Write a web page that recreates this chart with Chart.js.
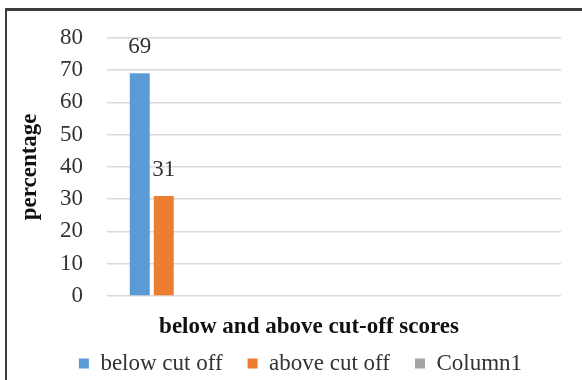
<!DOCTYPE html>
<html><head><meta charset="utf-8">
<script src="https://cdn.jsdelivr.net/npm/chart.js@4.4.1/dist/chart.umd.min.js"></script>
<style>
html,body{margin:0;padding:0;background:#fff;}
#wrap{position:relative;width:582px;height:380px;overflow:hidden;background:#fff;}
#frame{position:absolute;left:5px;top:8px;width:700px;height:500px;border-left:2px solid #3c3c3c;border-top:3px solid #3c3c3c;}
canvas{position:absolute;left:0;top:0;}
</style></head><body>
<div id="wrap"><div id="frame"></div><canvas id="c" width="582" height="380"></canvas></div>
<script>
// ---- data ----
const categories = ['', '', '', ''];
const seriesNames = ['below cut off', 'above cut off', 'Column1'];
const belowCutOff = [69, null, null, null];
const aboveCutOff = [31, null, null, null];
const column1 = [null, null, null, null];
const yTicks = [0, 10, 20, 30, 40, 50, 60, 70, 80];
const xTitle = 'below and above cut-off scores';
const yTitle = 'percentage';

const FONT = '"Liberation Serif", "Times New Roman", serif';

const barLabels = {
  id: 'barLabels',
  afterDatasetsDraw(chart) {
    const ctx = chart.ctx;
    ctx.save();
    ctx.font = '23px ' + FONT;
    ctx.fillStyle = '#333';
    ctx.textAlign = 'center';
    ctx.textBaseline = 'alphabetic';
    chart.data.datasets.forEach((ds, i) => {
      const meta = chart.getDatasetMeta(i);
      meta.data.forEach((el, j) => {
        const v = ds.data[j];
        if (v == null) return;
        ctx.fillText(String(v), el.x, el.y - 20);
      });
    });
    ctx.restore();
  }
};

const axisTitles = {
  id: 'axisTitles',
  afterDraw(chart) {
    const ctx = chart.ctx;
    const a = chart.chartArea;
    ctx.save();
    ctx.font = 'bold 23px ' + FONT;
    ctx.fillStyle = '#111';
    ctx.textAlign = 'center';
    ctx.textBaseline = 'middle';
    ctx.fillText(xTitle, a.left + (a.right - a.left) / 2 - 25, a.bottom + 31);
    ctx.translate(30, (a.top + a.bottom) / 2);
    ctx.rotate(-Math.PI / 2);
    ctx.fillText(yTitle, 0, 0);
    ctx.restore();
  }
};

new Chart(document.getElementById('c'), {
  type: 'bar',
  data: {
    labels: categories,
    datasets: [
      { label: seriesNames[0], data: belowCutOff, backgroundColor: '#5B9BD5' },
      { label: seriesNames[1], data: aboveCutOff, backgroundColor: '#ED7D31' },
      { label: seriesNames[2], data: column1, backgroundColor: '#A5A5A5' }
    ]
  },
  options: {
    responsive: false,
    animation: false,
    devicePixelRatio: 1,
    categoryPercentage: 0.634,
    barPercentage: 0.833,
    layout: { padding: { left: 40, right: 21, top: 33, bottom: -5 } },
    plugins: {
      tooltip: { enabled: false },
      legend: {
        position: 'bottom',
        labels: {
          font: { family: FONT, size: 23 },
          color: '#333',
          boxWidth: 10,
          boxHeight: 10,
          padding: 25
        }
      }
    },
    scales: {
      x: {
        grid: { display: false },
        border: { display: false },
        ticks: { display: false },
        afterFit: (s) => { s.height = 31; }
      },
      y: {
        min: yTicks[0],
        max: yTicks[yTicks.length - 1],
        ticks: {
          stepSize: yTicks[1] - yTicks[0],
          font: { family: FONT, size: 23 },
          color: '#333',
          padding: 24
        },
        grid: { color: '#d9d9d9', lineWidth: 1.5, drawTicks: false },
        border: { display: false },
        afterFit: (s) => { s.width = 67; }
      }
    }
  },
  plugins: [barLabels, axisTitles]
});
</script>
</body></html>
